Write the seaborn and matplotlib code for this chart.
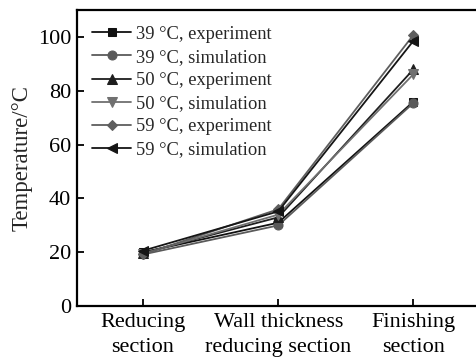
import matplotlib
matplotlib.use("Agg")
import matplotlib.pyplot as plt
import seaborn as sns
import pandas as pd

sns.set_theme(style="ticks")
plt.rcParams["font.family"] = ["Liberation Serif", "DejaVu Serif"]
plt.rcParams["mathtext.fontset"] = "stix"

sections = ["Reducing\nsection", "Wall thickness\nreducing section", "Finishing\nsection"]

exp39 = [20.0, 31.0, 76.0]
sim39 = [19.2, 30.0, 75.5]
exp50 = [19.8, 33.0, 88.0]
sim50 = [19.5, 34.0, 86.2]
exp59 = [19.2, 36.0, 100.8]
sim59 = [20.6, 35.2, 98.6]

labels = ["39 °C, experiment", "39 °C, simulation",
          "50 °C, experiment", "50 °C, simulation",
          "59 °C, experiment", "59 °C, simulation"]
series = [exp39, sim39, exp50, sim50, exp59, sim59]

colors = ["#111111", "#5a5a5a", "#1e1e1e", "#707070", "#5e5e5e", "#151515"]
marker_list = ["s", "o", "^", "v", "D", "<"]
marker_sizes = [6, 6.5, 6.5, 6.5, 5.5, 6.5]

rows = []
for lab, vals in zip(labels, series):
    for sec, v in zip(sections, vals):
        rows.append({"section": sec, "temp": v, "series": lab})
df = pd.DataFrame(rows)

fig = plt.figure(figsize=(4.77, 3.61), dpi=100)
ax = fig.add_axes([0.161, 0.152, 0.839, 0.820])

for lab, col, mk, ms in zip(labels, colors, marker_list, marker_sizes):
    sns.lineplot(data=df[df["series"] == lab], x="section", y="temp",
                 color=col, marker=mk, markersize=ms, markeredgecolor=col,
                 linewidth=1.3, label=lab, sort=False, ax=ax)

ax.set_xlim(-0.49, 2.47)
ax.set_ylim(0, 110)
ax.set_yticks([0, 20, 40, 60, 80, 100])
ax.set_xlabel("")
ax.set_ylabel("Temperature/°C", fontsize=16.5, labelpad=4)
ax.tick_params(axis="both", direction="in", length=5, width=1.3,
               labelsize=16, colors="black", pad=4)
for side in ["left", "bottom", "top"]:
    ax.spines[side].set_linewidth(1.6)
    ax.spines[side].set_color("black")
ax.spines["right"].set_visible(False)
ax.tick_params(axis="x", pad=5)
for t in ax.get_xticklabels():
    t.set_linespacing(1.45)

ax.legend(loc="upper left", bbox_to_anchor=(0.0, 1.0), frameon=False,
          fontsize=13.3, handlelength=2.1, handletextpad=0.25,
          labelspacing=0.33, borderaxespad=0.45)

fig.savefig("out.png", dpi=100)
